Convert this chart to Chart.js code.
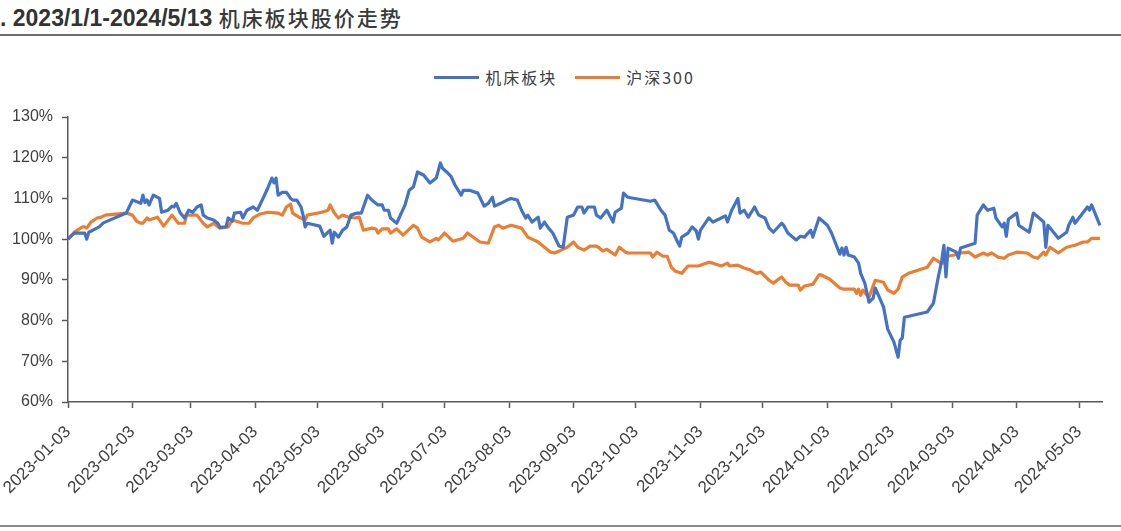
<!DOCTYPE html>
<html>
<head>
<meta charset="utf-8">
<script src="https://cdn.jsdelivr.net/npm/chart.js@4.4.1/dist/chart.umd.min.js"></script>
<style>
  html, body { margin: 0; padding: 0; background: #fff; }
  body { width: 1121px; height: 531px; position: relative; overflow: hidden; }
  #title {
    position: absolute; left: 0px; top: 2px; white-space: nowrap;
    font: bold 23px "Liberation Sans", Arial, sans-serif; color: #333;
  }
  #title .cn { font-family: "Noto Sans CJK SC", sans-serif; font-weight: 500; font-size: 21px; letter-spacing: 2px; color: #3a3a3a; }
  #topLine { position: absolute; left: 0; top: 34px; width: 1121px; height: 2px; background: #6f6f6f; }
  #bottomLine { position: absolute; left: 0; top: 525px; width: 1121px; height: 2px; background: #8a8a8a; }
  #legend {
    position: absolute; left: 0; width: 1121px; top: 65px;
    display: flex; justify-content: center; gap: 18px; padding-left: 8px; box-sizing: border-box;
    font: 16px "Noto Sans CJK SC", sans-serif; color: #404040; letter-spacing: 2px;
  }
  #legend .item { display: flex; align-items: center; }
  #legend .swatch { width: 45px; height: 3px; margin-right: 6px; }
  #wrap { position: absolute; left: 0; top: 0; width: 1121px; height: 531px; }
</style>
</head>
<body>
<div id="title">. 2023/1/1-2024/5/13 <span class="cn">机床板块股价走势</span></div>
<div id="topLine"></div>
<div id="legend"></div>
<div id="wrap"><canvas id="chart"></canvas></div>
<div id="bottomLine"></div>
<script>
// 日期轴：距 2023-01-03 的天数
const startDate = '2023-01-03';
const tickLabels = ['2023-01-03', '2023-02-03', '2023-03-03', '2023-04-03', '2023-05-03', '2023-06-03',
  '2023-07-03', '2023-08-03', '2023-09-03', '2023-10-03', '2023-11-03', '2023-12-03',
  '2024-01-03', '2024-02-03', '2024-03-03', '2024-04-03', '2024-05-03'];
const yTicks = [60, 70, 80, 90, 100, 110, 120, 130];

// 机床板块
const jcDays = [0, 3, 8, 9, 10, 15, 17, 28, 31, 35, 36, 37, 38, 39, 41, 44, 45, 48, 50, 51, 52, 54, 56, 58, 60,
  62, 64, 65, 67, 70, 72, 73, 76, 77, 79, 80, 83, 84, 86, 89, 91, 94, 96, 98, 99, 100, 101, 103, 105, 107,
  108, 110, 112, 113, 114, 115, 121, 123, 125, 126, 127, 128, 130, 132, 134, 136, 139, 141, 144, 146, 149,
  151, 152, 154, 155, 158, 162, 164, 166, 168, 171, 174, 177, 179, 180, 182, 184, 186, 189, 190, 193, 197,
  200, 202, 204, 205, 208, 211, 213, 216, 218, 220, 221, 223, 226, 227, 229, 231, 233, 236, 238, 240, 243,
  245, 247, 248, 250, 253, 254, 256, 259, 262, 263, 266, 267, 269, 280, 282, 283, 285, 287, 289, 291, 293,
  294, 295, 298, 300, 302, 303, 304, 308, 310, 314, 316, 317, 319, 322, 323, 325, 327, 330, 332, 335, 337,
  339, 343, 344, 346, 350, 352, 354, 357, 358, 361, 365, 367, 371, 372, 373, 374, 375, 378, 380, 381, 383,
  385, 387, 388, 390, 392, 394, 397, 399, 400, 401, 402, 413, 416, 418, 420, 421, 422, 423, 427, 428, 429,
  436, 437, 440, 442, 445, 446, 449, 450, 451, 452, 456, 457, 462, 464, 469, 470, 471, 476, 480, 481, 483,
  484, 490, 491, 492, 496];
const jcVals = [100, 101.5, 101.5, 100, 101.7, 103, 104, 106.4, 109.6, 108.8, 110.8, 109, 109.6, 108.4, 110.8,
  110, 106.6, 107.1, 108.1, 107.9, 108.8, 106.4, 105.2, 107.1, 106.6, 107.9, 108.4, 105.9, 105.2, 104.7,
  103.9, 102.9, 103, 105.2, 104.4, 106.4, 106.6, 105.2, 107.1, 107.9, 107.1, 110.3, 112.5, 115, 113.8, 115,
  110.8, 111.5, 111.5, 110, 109.6, 109.6, 107.9, 105.9, 103, 103.9, 103.2, 100.7, 101.7, 102.2, 99, 101.7,
  100.5, 102.2, 103, 105.9, 106.4, 106.4, 110.8, 109.6, 108.4, 108.4, 107.1, 107.1, 105.2, 103.9, 108.4, 112,
  112.8, 116.5, 115.7, 113.8, 115, 118.7, 117.4, 116.5, 115.5, 113.3, 110.8, 112, 112, 111.3, 108.1, 108.8,
  110.3, 108.1, 108.8, 109.6, 110, 109.6, 107.1, 105.2, 105.9, 104.2, 105.4, 102.7, 104.2, 102.7, 101.5, 98.3,
  98, 105.4, 105.9, 107.9, 107.9, 106.4, 107.9, 107.9, 105.9, 105.2, 107.1, 104.2, 106.6, 107.6, 111.3, 110.3,
  109.3, 109.6, 108.8, 107.1, 105.9, 102.2, 101.5, 99.3, 98.3, 100.5, 101.5, 103, 102, 100, 102.2, 105.2,
  104.2, 105.2, 105.7, 104.2, 107.1, 110, 106.4, 107.1, 105.4, 107.9, 105.9, 105.2, 102.7, 101.7, 103.9,
  103.4, 101.5, 99.8, 100.7, 100.5, 102.2, 100.5, 105.2, 103.4, 101.5, 96.3, 97.8, 96.1, 98, 96.1, 95.6, 94.1,
  91.6, 89.2, 84.5, 85.5, 88, 85.7, 83.3, 77.9, 74.7, 71, 75.2, 75.7, 80.8, 82.1, 84.3, 89.9, 94.8, 98.5, 90.7,
  97.8, 96.8, 95.3, 97.8, 99, 105.9, 108.4, 107.1, 107.6, 105.2, 103, 103.9, 100.7, 104.9, 106.4, 103.4,
  101.7, 106.4, 104.2, 98, 103.4, 100.2, 101.7, 103.4, 105.4, 103.9, 107.9, 107.1, 108.4, 103.4];

// 沪深300
const hsDays = [0, 3, 7, 8, 9, 11, 14, 16, 18, 28, 31, 33, 35, 36, 38, 39, 43, 46, 50, 53, 56, 57, 62, 65, 67,
  70, 73, 77, 79, 84, 87, 89, 92, 96, 101, 103, 105, 107, 108, 111, 114, 115, 122, 125, 126, 128, 130, 132,
  135, 138, 140, 142, 146, 148, 149, 151, 154, 155, 158, 161, 166, 168, 170, 174, 177, 178, 181, 185, 190,
  192, 198, 202, 205, 207, 209, 213, 218, 221, 226, 229, 232, 234, 237, 240, 243, 245, 248, 251, 254, 255,
  257, 259, 261, 263, 265, 268, 269, 280, 281, 283, 286, 288, 290, 292, 295, 298, 303, 308, 310, 314, 317,
  318, 322, 325, 328, 331, 333, 337, 339, 343, 345, 347, 351, 352, 354, 358, 361, 362, 366, 371, 373, 378,
  379, 380, 381, 382, 385, 388, 392, 394, 397, 399, 401, 404, 413, 416, 419, 421, 422, 423, 426, 429, 433,
  436, 440, 442, 444, 447, 450, 452, 456, 461, 464, 466, 469, 470, 472, 476, 480, 484, 488, 490, 492, 496];
const hsVals = [100, 101.7, 103, 103, 102.7, 104.2, 105.2, 105.4, 105.9, 106.4, 105.9, 104.4, 103.9, 103.9,
  105.2, 104.7, 105.4, 103.2, 105.9, 103.9, 103.9, 105.9, 105.9, 103.9, 103, 103.9, 102.7, 103, 104.7, 103.9,
  103.9, 105.2, 106.1, 106.6, 106.4, 105.9, 107.9, 108.6, 106.4, 105.4, 104.7, 105.9, 106.6, 107.1, 108.4,
  106.4, 105.2, 105.9, 105.4, 105.2, 105.4, 102.2, 102.7, 102.5, 101.5, 102.5, 102.5, 101.5, 102.5, 101,
  103.4, 102.7, 100.5, 99.3, 100.2, 99.8, 101.5, 99.5, 100.2, 101.5, 99.3, 99, 103, 103.4, 102.7, 103.4,
  102.7, 100.5, 99.3, 98, 96.8, 96.6, 97.3, 98, 99.3, 98, 97.3, 98.3, 98.3, 98, 97.1, 97.5, 96.8, 96.1, 98,
  96.8, 96.6, 96.6, 95.6, 96.8, 95.8, 95.8, 93.1, 92.1, 91.6, 93.4, 93.4, 94.3, 94.1, 93.4, 94.1, 93.4, 93.6,
  92.9, 92.4, 91.6, 91.9, 89.9, 89.2, 90.7, 89.4, 88.7, 88.7, 87.5, 88.5, 88.9, 91.2, 91.2, 90.2, 88, 87.7,
  87.7, 86.7, 87.7, 86.2, 87.5, 85.7, 89.9, 89.4, 87.5, 86.7, 87.7, 90.7, 91.6, 93.1, 95.3, 94.3, 94.1, 95.3,
  95.8, 96.1, 96.6, 96.8, 95.6, 96.6, 96.1, 96.6, 95.6, 95.3, 96.1, 96.8, 96.6, 95.6, 95.3, 96.8, 96.1, 98,
  96.6, 98, 98.5, 99.3, 99.3, 100.2, 100.2];

const DAY = 86400000;
const t0 = Date.parse(startDate);
const tickDays = tickLabels.map(s => Math.round((Date.parse(s) - t0) / DAY));

function toPoints(days, vals) {
  return days.map((d, i) => ({ x: d, y: vals[i] }));
}

const axisColor = '#595959';
const tickFont = { family: '"Liberation Sans", Arial, sans-serif', size: 16 };

const chart = new Chart(document.getElementById('chart'), {
  type: 'line',
  data: {
    datasets: [
      { label: '机床板块', data: toPoints(jcDays, jcVals), borderColor: '#4472C4', backgroundColor: '#4472C4',
        borderWidth: 3.2, pointRadius: 0, tension: 0, borderJoinStyle: 'round' },
      { label: '沪深300', data: toPoints(hsDays, hsVals), borderColor: '#ED7D31', backgroundColor: '#ED7D31',
        borderWidth: 3.2, pointRadius: 0, tension: 0, borderJoinStyle: 'round' }
    ]
  },
  options: {
    responsive: true,
    maintainAspectRatio: false,
    animation: false,
    layout: { padding: { top: 117, right: 19, bottom: 0, left: 0 } },
    plugins: { legend: { display: false }, tooltip: { enabled: false } },
    scales: {
      x: {
        type: 'linear', min: 0, max: 497,
        afterBuildTicks: scale => { scale.ticks = tickDays.map(v => ({ value: v })); },
        afterFit: scale => { scale.height = 129; scale.paddingLeft = 0; scale.paddingRight = 0; },
        grid: { drawOnChartArea: false, tickLength: 6, tickColor: axisColor, tickWidth: 1.5 },
        border: { color: axisColor, width: 1.5 },
        ticks: {
          autoSkip: false, minRotation: 45, maxRotation: 45, padding: 14,
          color: '#404040', font: { family: '"Liberation Sans", Arial, sans-serif', size: 17 },
          callback: v => tickLabels[tickDays.indexOf(v)]
        }
      },
      y: {
        min: 60, max: 130,
        afterBuildTicks: scale => { scale.ticks = yTicks.map(v => ({ value: v })); },
        afterFit: scale => { scale.width = 68; },
        grid: { drawOnChartArea: false, tickLength: 6, tickColor: axisColor, tickWidth: 1.5 },
        border: { color: axisColor, width: 1.5 },
        ticks: { padding: 9, color: '#404040', font: tickFont, callback: v => v + '%' }
      }
    }
  }
});

// 图例
const legend = document.getElementById('legend');
chart.data.datasets.forEach(ds => {
  const item = document.createElement('div');
  item.className = 'item';
  item.innerHTML = '<span class="swatch" style="background:' + ds.borderColor + '"></span>' + ds.label;
  legend.appendChild(item);
});
</script>
</body>
</html>
